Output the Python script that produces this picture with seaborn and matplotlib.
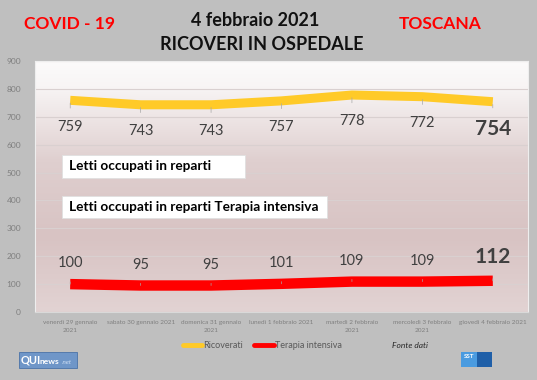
import numpy as np
import pandas as pd
import matplotlib
matplotlib.use("Agg")
import matplotlib.pyplot as plt
from matplotlib.patches import Rectangle
from matplotlib.lines import Line2D
from matplotlib.colors import LinearSegmentedColormap
import seaborn as sns

# data
giorni = ['venerdì 29 gennaio\n2021', 'sabato 30 gennaio 2021', 'domenica 31 gennaio\n2021',
          'lunedì 1 febbraio 2021', 'martedì 2 febbraio\n2021', 'mercoledì 3 febbraio\n2021',
          'giovedì 4 febbraio 2021']
ricoverati = [759, 743, 743, 757, 778, 772, 754]
terapia_intensiva = [100, 95, 95, 101, 109, 109, 112]
y_ticks = [0, 100, 200, 300, 400, 500, 600, 700, 800, 900]

sns.set_style("white")
plt.rcParams['font.family'] = ['Lato', 'DejaVu Sans']

W, H = 537, 380
fig = plt.figure(figsize=(W / 100, H / 100), dpi=100, facecolor='#bfbfbf')

# plot area in pixel coords (left, top, right, bottom)
L, T, R, B = 35, 61, 528, 312
ax = fig.add_axes([L / W, 1 - B / H, (R - L) / W, (B - T) / H])

# gradient background of the plot area
grad = LinearSegmentedColormap.from_list('bg', [(0.0, '#e2d3d3'), (0.3, '#d8c3c3'),
                                                 (0.6, '#dfcfcf'), (0.9, '#f8f5f5'), (1.0, '#fcfbfb')])
ax.imshow(np.linspace(0, 1, 256).reshape(-1, 1), cmap=grad, aspect='auto',
          extent=[0, 1, 0, 1], transform=ax.transAxes, origin='lower', zorder=0)

df = pd.DataFrame({'giorno': giorni, 'Ricoverati': ricoverati, 'Terapia intensiva': terapia_intensiva})
sns.lineplot(data=df, x='giorno', y='Ricoverati', color='#ffca28', linewidth=6.5, ax=ax,
             solid_capstyle='butt', zorder=3, sort=False)
sns.lineplot(data=df, x='giorno', y='Terapia intensiva', color='#ff0000', linewidth=7.5, ax=ax,
             solid_capstyle='butt', zorder=3, sort=False)

ax.set_xlim(-0.5, len(giorni) - 0.5)
ax.set_ylim(0, 900)
ax.set_yticks(y_ticks)
ax.yaxis.grid(True, color='#d9d0d0', linewidth=0.8, zorder=1)
ax.set_axisbelow(True)
ax.tick_params(axis='y', length=0, pad=10, labelsize=6, labelcolor='#7f7f7f')
ax.tick_params(axis='x', length=0, pad=6, labelsize=4.6, labelcolor='#7f7f7f')
ax.set_xticks(range(len(giorni)))
ax.set_xticklabels(giorni, linespacing=1.7)
ax.set_xticks(np.arange(-0.5, len(giorni), 1), minor=True)
ax.tick_params(axis='x', which='minor', length=4, color='#d9d9d9', width=0.8)
ax.set_xlabel('')
ax.set_ylabel('')
for s in ['top', 'left', 'right']:
    ax.spines[s].set_color('#eeeeee')
    ax.spines[s].set_linewidth(0.8)
ax.spines['bottom'].set_color('#d9d9d9')

# value labels
for i, v in enumerate(ricoverati):
    last = i == len(ricoverati) - 1
    ax.annotate(str(v), (i, v), xytext=(0, -20 if last else -19), textcoords='offset points',
                ha='center', va='center',
                fontsize=15 if last else 10.5, fontweight='bold' if last else 'normal', color='#404040',
                arrowprops=dict(arrowstyle='-', color='#a6a6a6', lw=0.5, shrinkA=6, shrinkB=2), zorder=4)
for i, v in enumerate(terapia_intensiva):
    last = i == len(terapia_intensiva) - 1
    ax.annotate(str(v), (i, v), xytext=(0, 17 if last else 15), textcoords='offset points',
                ha='center', va='center',
                fontsize=15 if last else 10.5, fontweight='bold' if last else 'normal', color='#404040',
                arrowprops=dict(arrowstyle='-', color='#a6a6a6', lw=0.5, shrinkA=6, shrinkB=2), zorder=4)


def px(x, y):
    return x / W, 1 - y / H


# white label boxes
for (x0, y0, x1, y1, txt) in [(62, 155, 245, 178, 'Letti occupati in reparti'),
                              (62, 196, 327, 218, 'Letti occupati in reparti Terapia intensiva')]:
    fig.patches.append(Rectangle(px(x0, y1), (x1 - x0) / W, (y1 - y0) / H, transform=fig.transFigure,
                                 facecolor='white', edgecolor='#e0e0e0', linewidth=0.6, zorder=5))
    fig.text(*px(x0 + 7, (y0 + y1) / 2), txt, fontsize=9.8, fontweight='bold', color='black',
             ha='left', va='center', zorder=6)

# titles
fig.text(*px(255, 20), '4 febbraio 2021', fontsize=13, fontweight='bold', color='#111111', ha='center', va='center')
fig.text(*px(262, 45), 'RICOVERI IN OSPEDALE', fontsize=13, fontweight='bold', color='#111111', ha='center', va='center')
fig.text(*px(69, 24), 'COVID - 19', fontsize=12.5, fontweight='bold', color='#ff0000', ha='center', va='center')
fig.text(*px(440, 24), 'TOSCANA', fontsize=12.5, fontweight='bold', color='#ff0000', ha='center', va='center')

# legend
handles = [Line2D([], [], color='#ffca28', lw=3.5), Line2D([], [], color='#ff0000', lw=3.5)]
fig.legend(handles, ['Ricoverati', 'Terapia intensiva'], loc='center', bbox_to_anchor=px(262, 346),
           ncol=2, frameon=False, fontsize=6.5, handlelength=2.2, handletextpad=0.1, columnspacing=1.2,
           labelcolor='#595959')

fig.text(*px(410, 345), 'Fonte dati', fontsize=6, fontstyle='italic', color='#262626', ha='center', va='center')

# QUInews logo
fig.patches.append(Rectangle(px(19, 368), 58 / W, 16 / H, transform=fig.transFigure,
                             facecolor='#6f96c8', edgecolor='#4a73a8', linewidth=0.6, zorder=5))
fig.text(*px(21, 360), 'QUI', fontsize=8, fontweight='bold', color='white', ha='left', va='center', zorder=6)
fig.text(*px(40, 361), 'news', fontsize=6, fontweight='bold', color='white', ha='left', va='center', zorder=6)
fig.text(*px(62, 362), '.net', fontsize=4.5, fontstyle='italic', color='#d0e0f5', ha='left', va='center', zorder=6)

# SST logo
fig.patches.append(Rectangle(px(461, 367), 16 / W, 15 / H, transform=fig.transFigure,
                             facecolor='#4a9be0', edgecolor='none', zorder=5))
fig.patches.append(Rectangle(px(477, 367), 15 / W, 15 / H, transform=fig.transFigure,
                             facecolor='#1f5fa8', edgecolor='none', zorder=5))
fig.text(*px(469, 356), 'SST', fontsize=4.5, fontweight='bold', color='white', ha='center', va='center', zorder=6)

fig.savefig('out.png', dpi=100, facecolor=fig.get_facecolor())
